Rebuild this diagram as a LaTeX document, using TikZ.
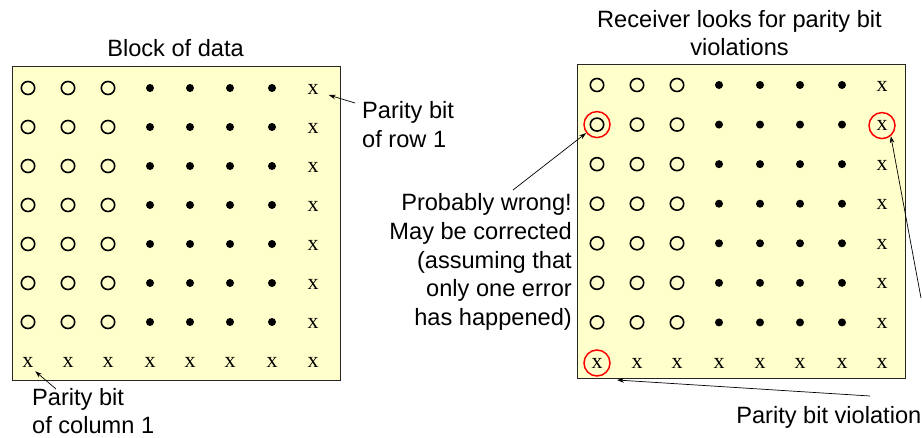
\documentclass[tikz,border=0pt]{standalone}
\usepackage{fontspec}
\setmainfont{Liberation Sans}
\newfontfamily\xfont{Liberation Serif}
\usetikzlibrary{arrows.meta,shapes.geometric,calc}
\definecolor{paper}{HTML}{FFFFCC}
\begin{document}
\begin{tikzpicture}[x=1pt,y=-1pt,
  blockbox/.style={draw=black!85, line width=1.2pt, fill=paper, inner sep=0pt,
                   minimum width=328pt, minimum height=314pt, anchor=north west},
  obit/.style={ellipse, draw, line width=1.6pt, minimum width=13.4pt, minimum height=13pt, inner sep=0pt},
  dbit/.style={circle, fill, minimum size=8pt, inner sep=0pt},
  xbit/.style={inner sep=0pt, font=\xfont\fontsize{22pt}{22pt}\selectfont},
  redring/.style={circle, draw=red, line width=1.5pt, minimum size=26pt, inner sep=0pt},
  lbl/.style={inner sep=0pt, font=\fontsize{23.6pt}{28.7pt}\selectfont},
  arr/.style={-{Stealth[length=7pt,width=4.6pt]}, line width=0.7pt}]
\useasboundingbox (0,0) rectangle (922,437);

% boxes
\node[blockbox] (lbox) at (12,66) {};
\node[blockbox] (rbox) at (577,64) {};

% grids
\foreach \r in {1,...,7}{
  \foreach \c/\xl/\xr in {1/28/597,2/68/637,3/108/677}{
    \node[obit] (L-\r-\c) at (\xl,{88+39*(\r-1)}) {};
    \node[obit] (R-\r-\c) at (\xr,{85+39.57*(\r-1)}) {};
  }
  \foreach \c/\xl/\xr in {4/150/719,5/190/760,6/230/800,7/272/842}{
    \node[dbit] (L-\r-\c) at (\xl,{88+39*(\r-1)}) {};
    \node[dbit] (R-\r-\c) at (\xr,{85+39.57*(\r-1)}) {};
  }
  \node[xbit] (L-\r-8) at (313,{89+39*(\r-1)}) {x};
  \node[xbit] (R-\r-8) at (882,{86+39.57*(\r-1)}) {x};
}
\foreach \c/\xl/\xr in {1/28/597,2/68/637,3/108/677,4/150/719,5/190/760,6/230/800,7/272/842,8/313/882}{
  \node[xbit] (L-8-\c) at (\xl,362) {x};
  \node[xbit] (R-8-\c) at (\xr,363) {x};
}

% red rings
\node[redring] (v1) at (R-2-1) {};
\node[redring] (v2) at (R-2-8) {};
\node[redring] (v3) at (R-8-1) {};

% titles
\node[lbl, anchor=base] (t1) at (175.5,56) {Block of data};
\node[lbl, anchor=base] (t2a) at (739.5,27) {Receiver looks for parity bit};
\node[lbl, anchor=base] (t2b) at (739.5,55) {violations};

% labels
\node[lbl, anchor=base west] (pr1) at (362,118) {Parity bit};
\node[lbl, anchor=base west] (pr2) at (362,147) {of row 1};
\node[lbl, anchor=base west] (pc1) at (32,405) {Parity bit};
\node[lbl, anchor=base west] (pc2) at (32,433) {of column 1};
\node[lbl, anchor=base east] (pv) at (921.5,423) {Parity bit violation};
\node[lbl, anchor=base east] (pw1) at (572,210.7) {Probably wrong!};
\node[lbl, anchor=base east] (pw2) at (572,239.4) {May be corrected};
\node[lbl, anchor=base east] (pw3) at (572,268.1) {(assuming that};
\node[lbl, anchor=base east] (pw4) at (572,296.8) {only one error};
\node[lbl, anchor=base east] (pw5) at (572,325.5) {has happened)};

% arrows
\coordinate (rowtail) at (355,103);
\coordinate (coltail) at (56,389);
\coordinate (pwtail) at (513,190);
\coordinate (rtail) at (921,298);
\coordinate (btail) at (870,396);
\draw[arr] (rowtail) -- ($(L-1-8.east)+(10,6)$);
\draw[arr] (coltail) -- ($(L-8-1.south east)+(1.5,4)$);
\draw[arr] (pwtail) -- (v1);
\draw[arr] (rtail) -- (v2.-50);
\draw[arr] (btail) -- ($(v3.center)+(20,17)$);
\end{tikzpicture}
\end{document}
